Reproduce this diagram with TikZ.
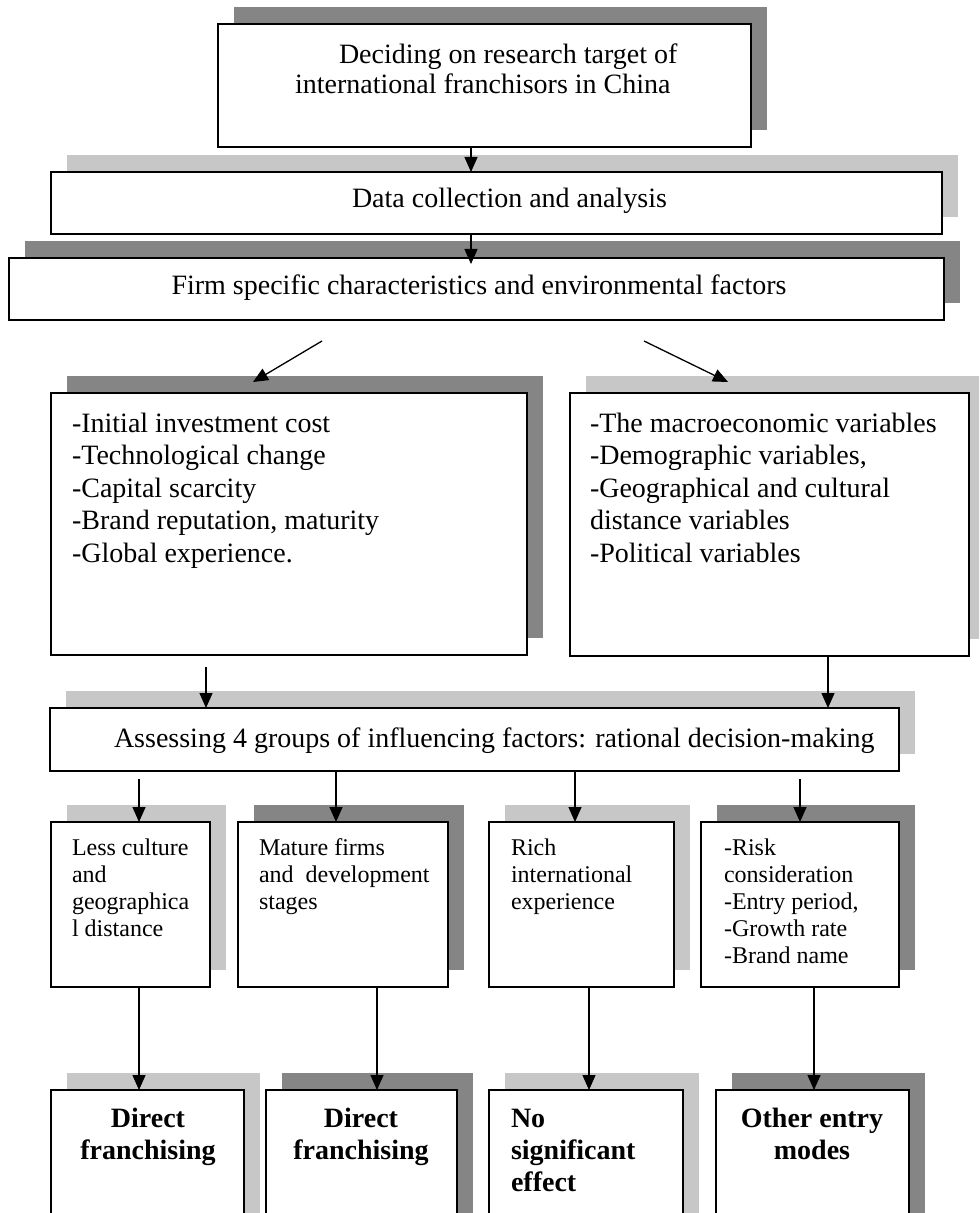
\documentclass[tikz,border=0pt]{standalone}
\usepackage{fontspec}
\setmainfont{Liberation Serif}
\usetikzlibrary{arrows.meta,calc,fit}
\definecolor{shdark}{gray}{0.52}
\definecolor{shlight}{gray}{0.78}
\tikzset{
  box/.style={draw=black, line width=1.1pt, fill=white, inner sep=0pt, outer sep=0pt},
  arr/.style={line width=0.65pt, -{Triangle[length=7.5pt,width=6.5pt]}},
  txt/.style={inner sep=0pt, outer sep=0pt, anchor=base west, font=\fontsize{14}{16}\selectfont},
  ctxt/.style={txt, anchor=base},
  stxt/.style={txt, font=\fontsize{12}{13.5}\selectfont},
  btxt/.style={txt, font=\fontsize{14}{16}\selectfont\bfseries},
  cbtxt/.style={btxt, anchor=base},
}
% name, x1, y1, x2, y2, shadow colour
\newcommand\shbox[6]{%
  \fill[#6] ({#2+16},{#3-17}) rectangle ({#4+16},{#5-17});
  \node[box, fit={(#2,#3) (#4,#5)}] (#1) {};}
\newcommand\LinesL[2]{\vtop{\baselineskip=#1\relax\lineskiplimit=-100pt\lineskip=0pt\halign{##\hfil\cr #2\crcr}}}
\newcommand\LinesC[2]{\vtop{\baselineskip=#1\relax\lineskiplimit=-100pt\lineskip=0pt\halign{\hfil##\hfil\cr #2\crcr}}}
\begin{document}
\begin{tikzpicture}[x=0.5pt, y=-0.5pt]
\useasboundingbox (0,0) rectangle (979,1213);
\begin{scope}
\clip (0,0) rectangle (979,1213);
% boxes with shadows
\shbox{b1}{218}{24}{751}{147}{shdark}
\shbox{b2}{51}{172}{942}{234}{shlight}
\shbox{b3}{9}{258}{944}{320}{shdark}
\shbox{L}{51}{393}{527}{655}{shdark}
\shbox{R}{570}{393}{969}{656}{shlight}
\shbox{A0}{50}{708}{899}{771}{shlight}
\shbox{sA}{51}{822}{210}{987}{shlight}
\shbox{sB}{238}{822}{448}{987}{shdark}
\shbox{sC}{489}{822}{674}{987}{shlight}
\shbox{sD}{701}{822}{899}{987}{shdark}
\shbox{eE}{51}{1090}{244}{1240}{shlight}
\shbox{eF}{266}{1090}{457}{1240}{shdark}
\shbox{eG}{489}{1090}{683}{1240}{shlight}
\shbox{eH}{716}{1090}{909}{1240}{shdark}
\end{scope}

% texts
\node[txt] (t1) at (295,64) {\LinesL{15pt}{\kern22pt Deciding on research target of\cr international franchisors in China}};
\node[txt] (t2) at (352,208) {Data collection and analysis};
\node[ctxt] (t3) at (479,295) {Firm specific characteristics and environmental factors};
\node[txt] (tL) at (72,432) {\LinesL{16.25pt}{-Initial investment cost\cr -Technological change\cr -Capital scarcity\cr -Brand reputation, maturity\cr -Global experience.}};
\node[txt] (tR) at (590,432) {\LinesL{16.25pt}{-The macroeconomic variables\cr -Demographic variables,\cr -Geographical and cultural\cr distance variables\cr -Political variables}};
\node[txt] (tA0) at (114,747) {Assessing 4 groups of influencing factors: rational decision-making};
\node[stxt] (tA) at (72,855) {\LinesL{13.5pt}{Less culture\cr and\cr geographica\cr l distance}};
\node[stxt] (tB) at (259,855) {\LinesL{13.5pt}{Mature firms\cr and\ \ development\cr stages}};
\node[stxt] (tC) at (511,855) {\LinesL{13.5pt}{Rich\cr international\cr experience}};
\node[stxt] (tD) at (724,855) {\LinesL{13.5pt}{-Risk\cr consideration\cr -Entry period,\cr -Growth rate\cr -Brand name}};
\node[cbtxt] (tE) at (148,1127) {\LinesC{16pt}{Direct\cr franchising}};
\node[cbtxt] (tF) at (361,1127) {\LinesC{16pt}{Direct\cr franchising}};
\node[btxt] (tG) at (511,1127) {\LinesL{16pt}{No\cr significant\cr effect}};
\node[cbtxt] (tH) at (812,1127) {\LinesC{16pt}{Other entry\cr modes}};

% arrow positions
\coordinate (x1) at (471,0);
\coordinate (xL) at (206,0);
\coordinate (xR) at (828,0);
\coordinate (xa) at (139,0);
\coordinate (xb) at (336,0);
\coordinate (xc) at (575,0);
\coordinate (xd) at (800,0);
\coordinate (xe) at (139,0);
\coordinate (xf) at (377,0);
\coordinate (xg) at (589,0);
\coordinate (xh) at (814,0);
\coordinate (d1s) at (322,341);
\coordinate (d1e) at (253,382);
\coordinate (d2s) at (644,341);
\coordinate (d2e) at (728,382);

% connectors
\draw[arr] (b1.south -| x1) -- (b2.north -| x1);
\draw[arr, shorten >=-3pt] (b2.south -| x1) -- (b3.north -| x1);
\draw[arr] (d1s) -- (d1e);
\draw[arr] (d2s) -- (d2e);
\draw[arr, shorten <=6pt] (L.south -| xL) -- (A0.north -| xL);
\draw[arr] (R.south -| xR) -- (A0.north -| xR);
\draw[arr, shorten <=4pt] (A0.south -| xa) -- (sA.north -| xa);
\draw[arr] (A0.south -| xb) -- (sB.north -| xb);
\draw[arr] (A0.south -| xc) -- (sC.north -| xc);
\draw[arr, shorten <=4pt] (A0.south -| xd) -- (sD.north -| xd);
\draw[arr] (sA.south -| xe) -- (eE.north -| xe);
\draw[arr] (sB.south -| xf) -- (eF.north -| xf);
\draw[arr] (sC.south -| xg) -- (eG.north -| xg);
\draw[arr] (sD.south -| xh) -- (eH.north -| xh);
\end{tikzpicture}
\end{document}
